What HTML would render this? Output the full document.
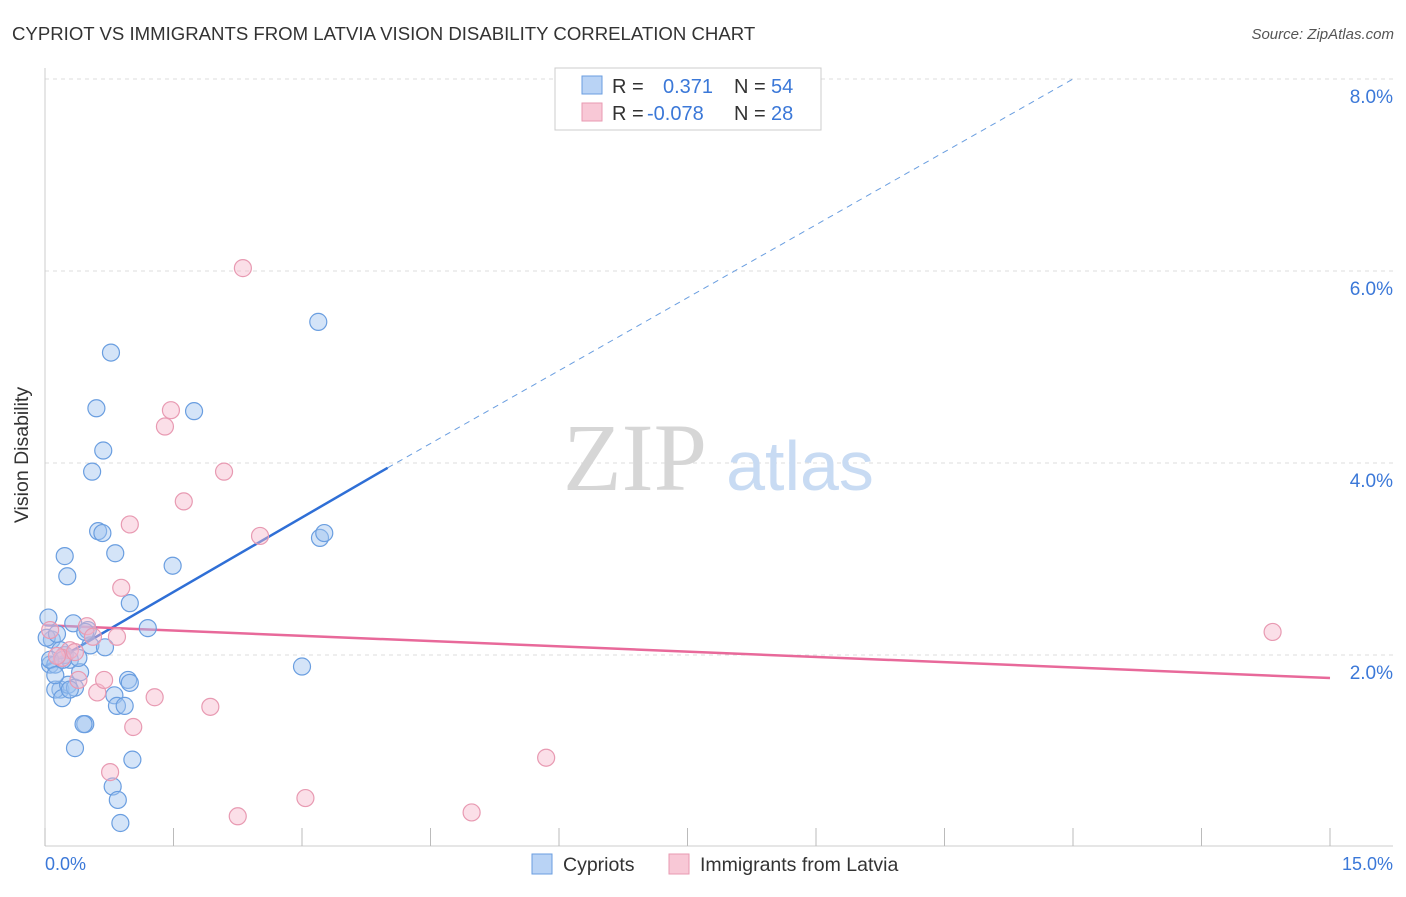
<!DOCTYPE html>
<html><head><meta charset="utf-8"><style>
body{margin:0;background:#fff;font-family:"Liberation Sans",sans-serif}
</style></head><body>
<svg width="1406" height="892" xmlns="http://www.w3.org/2000/svg">
<text x="12" y="40" font-size="18.6" fill="#333">CYPRIOT VS IMMIGRANTS FROM LATVIA VISION DISABILITY CORRELATION CHART</text>
<text x="1394" y="39" font-size="15" fill="#555" font-style="italic" text-anchor="end">Source: ZipAtlas.com</text>
<g id="grid"></g>
<g>
<text x="635" y="490" font-family="Liberation Serif,serif" font-size="96" fill="#d6d6d6" text-anchor="middle">ZIP</text>
<text x="800" y="490" font-size="70" fill="#c8dbf3" text-anchor="middle">atlas</text>
</g>
<line x1="45" y1="68" x2="45" y2="846" stroke="#ccc"/>
<line x1="45" y1="846" x2="1393" y2="846" stroke="#ccc"/>
<g id="xticks"></g>
<text x="28" y="455" font-size="19.5" fill="#333" text-anchor="middle" transform="rotate(-90 28 455)">Vision Disability</text>
<text x="45" y="870" font-size="18" fill="#3b78d8">0.0%</text>
<text x="1393" y="870" font-size="18" fill="#3b78d8" text-anchor="end">15.0%</text>
<g id="lines"></g>
<g id="points"></g>
<g>
<rect x="555" y="68" width="266" height="62" fill="#fff" stroke="#ccc"/>
<rect x="582" y="76" width="20" height="18" fill="#b9d3f5" stroke="#6a9ee0"/>
<rect x="582" y="103" width="20" height="18" fill="#f8c8d6" stroke="#e89ab2"/>
<text x="612" y="93" font-size="20" fill="#333">R =</text>
<text x="663" y="93" font-size="20" fill="#3b78d8">0.371</text>
<text x="734" y="93" font-size="20" fill="#333">N =</text>
<text x="771" y="93" font-size="20" fill="#3b78d8">54</text>
<text x="612" y="120" font-size="20" fill="#333">R =</text>
<text x="647" y="120" font-size="20" fill="#3b78d8">-0.078</text>
<text x="734" y="120" font-size="20" fill="#333">N =</text>
<text x="771" y="120" font-size="20" fill="#3b78d8">28</text>
</g>
<g>
<rect x="532" y="854" width="20" height="20" fill="#b9d3f5" stroke="#6a9ee0"/>
<text x="563" y="871" font-size="19.5" fill="#333">Cypriots</text>
<rect x="669" y="854" width="20" height="20" fill="#f8c8d6" stroke="#e89ab2"/>
<text x="700" y="871" font-size="19.5" fill="#333">Immigrants from Latvia</text>
</g>
</svg>
<script>
const yTicks=[2,4,6,8];
const xTickVals=[0,1.5,3,4.5,6,7.5,9,10.5,12,13.5,15];
const blueX=[0.04,0.08,0.06,0.12,0.18,0.12,0.20,0.27,0.29,0.23,0.18,0.33,0.35,0.41,0.39,0.50,0.53,0.70,0.35,0.47,0.45,0.23,0.26,0.62,0.67,0.82,0.99,1.20,1.49,0.81,0.84,0.93,0.97,0.99,1.02,0.79,0.85,0.88,0.55,0.68,0.60,0.77,1.74,3.00,3.19,3.21,3.26,0.02,0.06,0.14,0.21,0.29,0.12,0.47];
const blueY=[2.39,2.16,1.90,1.90,1.64,1.64,1.55,1.69,1.95,2.00,2.05,2.33,1.66,1.82,1.97,2.26,2.10,2.08,1.03,1.28,1.28,3.03,2.82,3.29,3.27,3.06,2.54,2.28,2.93,1.58,1.47,1.47,1.74,1.71,0.91,0.63,0.49,0.25,3.91,4.13,4.57,5.15,4.54,1.88,5.47,3.22,3.27,2.18,1.95,2.22,1.95,1.64,1.79,2.24];
const pinkX=[2.31,1.47,1.40,2.09,1.62,0.99,2.51,0.89,0.49,0.84,0.56,0.29,0.20,0.14,0.06,0.39,0.61,0.69,1.28,1.93,1.03,0.76,2.25,3.04,4.98,5.85,14.33,0.35];
const pinkY=[6.03,4.55,4.38,3.91,3.60,3.36,3.24,2.70,2.30,2.19,2.19,2.05,1.97,1.99,2.26,1.74,1.61,1.74,1.56,1.46,1.25,0.78,0.32,0.51,0.36,0.93,2.24,2.03];
const blueLine=[0,1.88,4.0,3.95,12,8.0];
const pinkLine=[0,2.31,15,1.76];
const NS="http://www.w3.org/2000/svg";
const sx=v=>45+v/15*1285, sy=v=>847-v*96;
function mk(t,a,p){const e=document.createElementNS(NS,t);for(const k in a)e.setAttribute(k,a[k]);document.getElementById(p).appendChild(e);return e;}
yTicks.forEach(t=>{
 const l=mk('line',{x1:45,x2:1393,y1:sy(t),y2:sy(t),stroke:'#ddd','stroke-dasharray':'4,4'},'grid');
 
 
 const tx=mk('text',{x:1393,y:sy(t)+24,'font-size':19,fill:'#3b78d8','text-anchor':'end'},'grid');
 tx.textContent=t.toFixed(1)+'%';
 
 
});
xTickVals.forEach(t=>{
 const l=mk('line',{x1:sx(t),x2:sx(t),y1:828,y2:846,stroke:'#bbb'},'xticks');
 
 
});
let b=mk('line',{x1:sx(blueLine[0]),y1:sy(blueLine[1]),x2:sx(blueLine[2]),y2:sy(blueLine[3]),stroke:'#2f6fd6','stroke-width':2.5},'lines');


b=mk('line',{x1:sx(blueLine[2]),y1:sy(blueLine[3]),x2:sx(blueLine[4]),y2:sy(blueLine[5]),stroke:'#6a9ee0','stroke-width':1,'stroke-dasharray':'6,5'},'lines');


b=mk('line',{x1:sx(pinkLine[0]),y1:sy(pinkLine[1]),x2:sx(pinkLine[2]),y2:sy(pinkLine[3]),stroke:'#e8699a','stroke-width':2.5},'lines');


blueX.forEach((x,i)=>{
 const c=mk('circle',{cx:sx(x),cy:sy(blueY[i]),r:8.5,fill:'rgba(160,195,240,0.45)',stroke:'#6a9ee0','stroke-width':1.2},'points');
 
 
});
pinkX.forEach((x,i)=>{
 const c=mk('circle',{cx:sx(x),cy:sy(pinkY[i]),r:8.5,fill:'rgba(246,185,205,0.45)',stroke:'#e89ab2','stroke-width':1.2},'points');
 
 
});
</script>
</body></html>
